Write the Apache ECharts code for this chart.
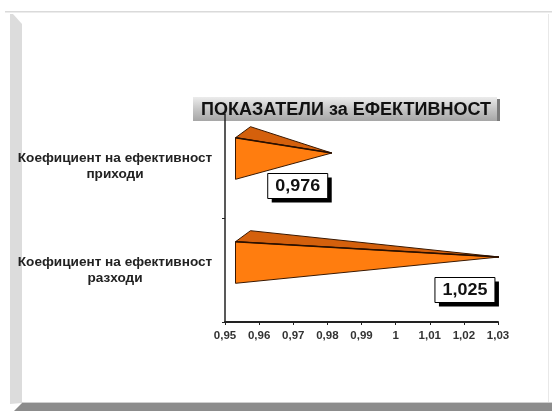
<!DOCTYPE html>
<html>
<head>
<meta charset="utf-8">
<script src="https://cdn.jsdelivr.net/npm/echarts@6/dist/echarts.min.js"></script>
<style>
  html, body { margin: 0; padding: 0; background: #ffffff; }
  #chart { width: 552px; height: 411px; }
</style>
</head>
<body>
<div id="chart"></div>
<script>
// Efficiency ratios shown as 3D pyramids
const categories = [
  'Коефициент на ефективност\nприходи',
  'Коефициент на ефективност\nразходи'
];
const values = [0.976, 1.025];
const axisMin = 0.95;
const axisMax = 1.03;
const axisStep = 0.01;
const titleText = 'ПОКАЗАТЕЛИ за ЕФЕКТИВНОСТ';

const FONT = 'Arial, "Liberation Sans", sans-serif';

function fmt(v) {
  return String(+Number(v).toFixed(3)).replace('.', ',');
}

// Pyramid with a square base at the axis minimum and its apex at the value
function renderPyramid(params, api) {
  const cat = api.value(0);
  const val = api.value(1);
  const start = api.coord([axisMin, cat]);
  const end = api.coord([val, cat]);
  const band = api.size([0, 1])[1];
  const h = band * 0.2;          // half side of the base square
  const off = [18, -13];         // oblique shift of the pyramid axis
  const depth = [15, -11];       // projected depth of the base square
  const cx = start[0] + off[0];
  const cy = start[1] + off[1];
  const tip = [end[0] + off[0], cy];
  const fx = cx - depth[0] / 2;
  const fy = cy - depth[1] / 2;
  const FT = [fx, fy - h];
  const FB = [fx, fy + h];
  const BT = [fx + depth[0], fy - h + depth[1]];
  const edge = '#3a1800';

  const lx = tip[0] - 34;
  const ly = tip[1] + 33;
  const bw = 60, bh = 25;

  return {
    type: 'group',
    children: [
      {
        type: 'polygon',
        shape: { points: [BT, FT, tip] },
        style: { fill: '#d4600c', stroke: edge, lineWidth: 1 }
      },
      {
        type: 'polygon',
        shape: { points: [FT, FB, tip] },
        style: { fill: '#ff7d0f', stroke: edge, lineWidth: 1 }
      },
      {
        type: 'line',
        shape: { x1: FT[0], y1: FT[1], x2: tip[0], y2: tip[1] },
        style: { stroke: '#2a1000', lineWidth: 1.6 }
      },
      {
        type: 'rect',
        shape: { x: lx - bw / 2 + 4, y: ly - bh / 2 + 4, width: bw, height: bh },
        style: { fill: '#000000' }
      },
      {
        type: 'rect',
        shape: { x: lx - bw / 2, y: ly - bh / 2, width: bw, height: bh },
        style: { fill: '#ffffff', stroke: '#000000', lineWidth: 1 }
      },
      {
        type: 'text',
        x: lx,
        y: ly + 1,
        scaleX: 1.12,
        style: {
          text: fmt(val),
          align: 'center',
          verticalAlign: 'middle',
          font: 'bold 16px ' + FONT,
          fill: '#111111'
        }
      }
    ]
  };
}

const chart = echarts.init(document.getElementById('chart'), null, { renderer: 'canvas' });

chart.setOption({
  backgroundColor: '#ffffff',
  animation: false,
  grid: { left: 225, right: 54, top: 114, bottom: 89, containLabel: false },
  xAxis: {
    type: 'value',
    min: axisMin,
    max: axisMax,
    interval: axisStep,
    splitLine: { show: false },
    axisLine: { show: true, lineStyle: { color: '#222222', width: 2 } },
    axisTick: { show: true, length: 3, lineStyle: { color: '#222222' } },
    axisLabel: {
      margin: 8,
      color: '#333333',
      fontFamily: FONT,
      fontWeight: 'bold',
      fontSize: 11.5,
      formatter: fmt
    }
  },
  yAxis: {
    type: 'category',
    data: categories,
    inverse: true,
    axisLine: { show: true, lineStyle: { color: '#222222', width: 1.5 } },
    axisTick: { show: true, length: 3, lineStyle: { color: '#222222' } },
    axisLabel: {
      margin: 110,
      align: 'center',
      color: '#222222',
      fontFamily: FONT,
      fontWeight: 'bold',
      fontSize: 13.6,
      lineHeight: 16
    }
  },
  series: [{
    type: 'custom',
    renderItem: renderPyramid,
    encode: { x: 1, y: 0 },
    data: values.map((v, i) => [i, v]),
    clip: false,
    z: 5
  }],
  graphic: [
    // page frame
    { type: 'rect', shape: { x: 5, y: 11, width: 547, height: 1.5 }, style: { fill: '#dadada' }, silent: true },
    { type: 'polygon', shape: { points: [[10, 14], [13, 14], [22, 24], [22, 403], [10, 404]] },
      style: { fill: '#dcdcdc' }, silent: true },
    { type: 'rect', shape: { x: 548, y: 14, width: 1, height: 389 }, style: { fill: '#e8e8e8' }, silent: true },
    { type: 'polygon', shape: { points: [[14, 411], [22, 403], [552, 403], [552, 411]] },
      style: { fill: '#8c8c8c' }, silent: true },
    { type: 'rect', shape: { x: 22, y: 402, width: 530, height: 1 }, style: { fill: '#cfcfcf' }, silent: true },
    // title box
    {
      type: 'group',
      z: 20,
      children: [
        { type: 'rect', shape: { x: 496, y: 99, width: 4, height: 22 }, style: { fill: '#7a7a7a' } },
        {
          type: 'rect',
          shape: { x: 193, y: 97, width: 304, height: 24 },
          style: {
            fill: new echarts.graphic.LinearGradient(0, 0, 0, 1, [
              { offset: 0, color: '#ececec' },
              { offset: 0.5, color: '#c6c6c6' },
              { offset: 1, color: '#a6a6a6' }
            ])
          }
        },
        {
          type: 'text',
          x: 346,
          y: 110,
          style: {
            text: titleText,
            align: 'center',
            verticalAlign: 'middle',
            font: 'bold 18px ' + FONT,
            fill: '#111111'
          }
        }
      ]
    }
  ]
});
</script>
</body>
</html>
